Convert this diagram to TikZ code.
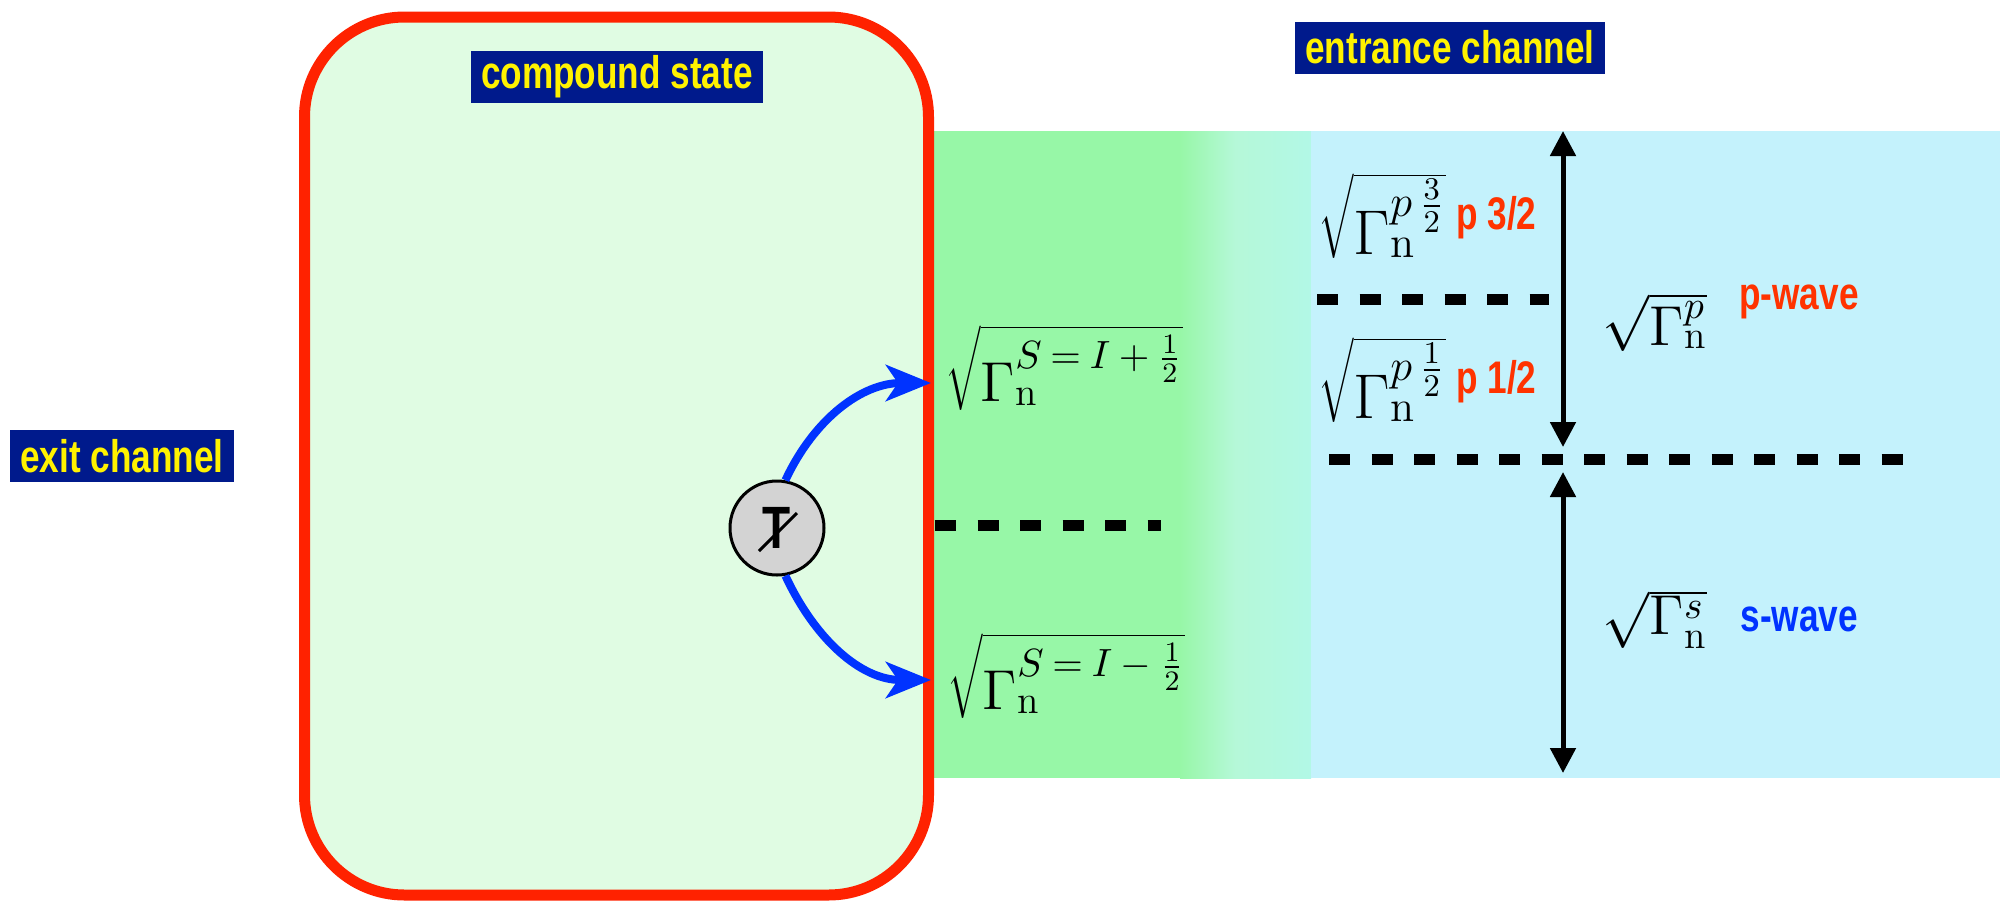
\RequirePackage{fix-cm}
\documentclass[tikz,border=0pt]{standalone}
\usepackage{fontspec}
\newfontfamily\labelfont{Liberation Sans}[FakeStretch=0.77]
\usetikzlibrary{arrows.meta, positioning}
\definecolor{navy}{HTML}{001A8C}
\definecolor{boxred}{HTML}{FF2200}
\definecolor{wavered}{HTML}{FF3300}
\definecolor{waveblue}{HTML}{0033FF}
\definecolor{cmpfill}{HTML}{E0FCE3}
\definecolor{bandgreen}{HTML}{97F7A7}
\definecolor{bandmid}{HTML}{B5F8D8}
\definecolor{bandcyan}{HTML}{9CFADF}
\definecolor{bandpale}{HTML}{B2F8E6}
\definecolor{bandblue}{HTML}{C4F2FC}
\definecolor{tgray}{HTML}{D3D3D3}
\tikzset{
  chan/.style={fill=navy, text=yellow, font=\labelfont\bfseries\fontsize{13}{15}\selectfont, minimum height=0.52cm, inner xsep=0.1cm, inner ysep=0pt},
  mlbl/.style={inner sep=0pt, font=\fontsize{16}{19}\selectfont},
  mbig/.style={inner sep=0pt, font=\fontsize{18}{21}\selectfont},
  wave/.style={inner sep=0pt, font=\labelfont\bfseries\fontsize{13}{15}\selectfont},
  arr/.style={{Triangle[length=0.25cm,width=0.25cm]}-{Triangle[length=0.25cm,width=0.25cm]}, line width=0.05cm},
  barr/.style={-{Stealth[length=0.45cm,width=0.36cm,inset=0.12cm]}, line width=0.08cm, draw=waveblue},
  lvl/.style={line width=0.11cm, dash pattern=on 0.21cm off 0.215cm},
}
\begin{document}
\begin{tikzpicture}
  \useasboundingbox (0,0) rectangle (20,9.02);
  % channel bands
  \fill[bandgreen] (9.28,1.24) rectangle (11.80,7.71);
  \shade[left color=bandgreen, right color=bandmid] (11.80,1.24) rectangle (12.35,7.71);
  \shade[left color=bandmid, middle color=bandcyan, right color=bandpale] (12.35,1.24) rectangle (13.11,7.71);
  \fill[bandblue] (13.11,1.24) rectangle (20,7.71);
  % compound nucleus
  \draw[line width=0.11cm, draw=boxred, fill=cmpfill, rounded corners=1cm] (3.045,0.07) rectangle (9.285,8.85);

  \node[chan] (cmp) at (6.17,8.255) {compound state};
  \node[chan] (ent) at (14.50,8.545) {entrance channel};
  \node[chan] (ext) at (1.22,4.46) {exit channel};

  % spin channels
  \node[mlbl, anchor=west] (splus) at (9.45,5.34) {$\sqrt{\Gamma_{\mathrm{n}}^{S\mkern4mu=\mkern4mu I\mkern4mu+\mkern4mu\frac{1}{2}}}$};
  \node[mlbl, anchor=west] (sminus) at (9.47,2.26) {$\sqrt{\Gamma_{\mathrm{n}}^{S\mkern4mu=\mkern4mu I\mkern4mu-\mkern4mu\frac{1}{2}}}$};
  \draw[lvl] (9.35,3.77) -- (11.61,3.77);

  % partial waves
  \node[mbig, anchor=west] (pthree) at (13.18,6.86) {$\sqrt{\Gamma_{\mathrm{n}}^{p\mkern3mu\frac{3}{2}}}$};
  \node[wave, text=wavered, right=0.09cm of pthree, yshift=-0.02cm] (pthreelbl) {p 3/2};
  \node[mbig, anchor=west] (pone) at (13.18,5.22) {$\sqrt{\Gamma_{\mathrm{n}}^{p\mkern3mu\frac{1}{2}}}$};
  \node[wave, text=wavered, right=0.09cm of pone, yshift=-0.02cm] (ponelbl) {p 1/2};
  \draw[lvl] (13.17,6.03) -- (15.49,6.03);
  \draw[lvl] (13.29,4.43) -- (19.05,4.43);

  \node[mlbl] (gp) at (16.55,5.80) {$\sqrt{\Gamma_{\mathrm{n}}^{p}}$};
  \node[wave, text=wavered] (pwave) at (17.99,6.0) {p-wave};
  \node[mlbl] (gs) at (16.55,2.83) {$\sqrt{\Gamma_{\mathrm{n}}^{s}}$};
  \node[wave, text=waveblue, right=0.32cm of gs] (swave) {s-wave};

  \coordinate (ptop) at (15.63,7.71);
  \coordinate (pbot) at (15.63,4.55);
  \coordinate (stop) at (15.63,4.30);
  \coordinate (sbot) at (15.63,1.29);
  \draw[arr] (ptop) -- (pbot);
  \draw[arr] (stop) -- (sbot);

  % T-violating vertex
  \node[circle, draw, line width=0.03cm, fill=tgray, minimum size=0.94cm, inner sep=0pt, font=\labelfont\bfseries\fontsize{17}{19}\selectfont] (tsym) at (7.77,3.74) {T};
  \draw[line width=0.03cm] ([shift={(-0.18,-0.23)}]tsym.center) -- ([shift={(0.20,0.15)}]tsym.center);
  \coordinate (uptip) at (9.31,5.19);
  \coordinate (lowtip) at (9.31,2.22);
  \draw[barr] (tsym.80) to[out=65,in=180] (uptip);
  \draw[barr] (tsym.-80) to[out=-65,in=180] (lowtip);
\end{tikzpicture}
\end{document}
